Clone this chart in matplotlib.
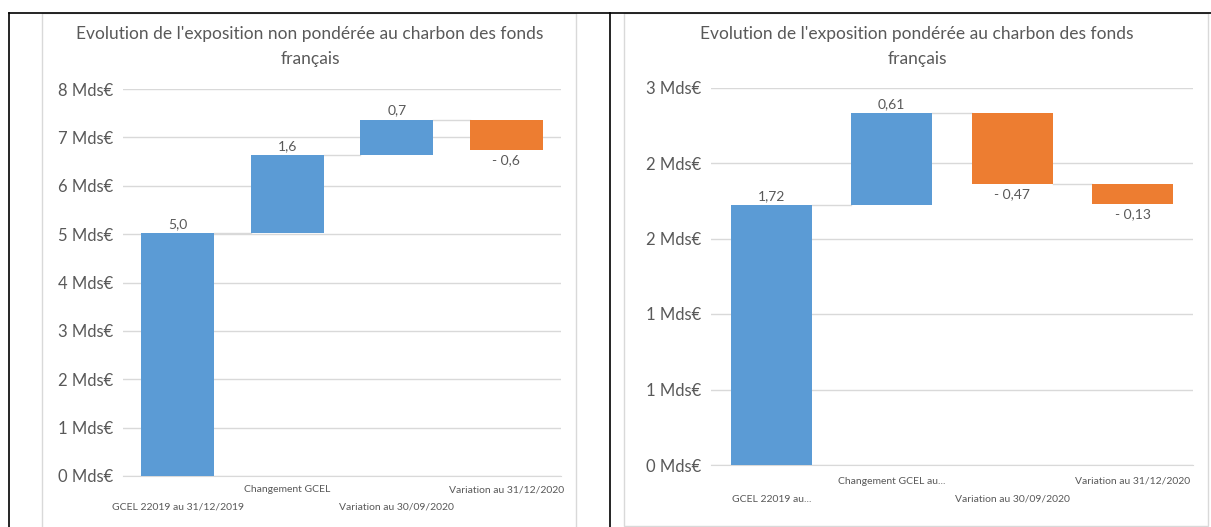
import matplotlib
matplotlib.use("Agg")
import matplotlib.pyplot as plt
from matplotlib.ticker import FuncFormatter, MultipleLocator
from matplotlib.lines import Line2D
from matplotlib.patches import Rectangle
import numpy as np

plt.rcParams['font.family'] = ['Lato', 'DejaVu Sans']

# ---- data ----
left_title = "Evolution de l'exposition non pondérée au charbon des fonds\nfrançais"
left_categories = ["GCEL 22019 au 31/12/2019", "Changement GCEL",
                   "Variation au 30/09/2020", "Variation au 31/12/2020"]
left_values = [5.02, 1.61, 0.73, -0.62]
left_decimals = 1

right_title = "Evolution de l'exposition pondérée au charbon des fonds\nfrançais"
right_categories = ["GCEL 22019 au...", "Changement GCEL au...",
                    "Variation au 30/09/2020", "Variation au 31/12/2020"]
right_values = [1.72, 0.61, -0.47, -0.13]
right_decimals = 2

BLUE = "#5B9BD5"
ORANGE = "#ED7D31"
TXT = "#595959"
GRID = "#D9D9D9"

W, H = 1211, 527
fig = plt.figure(figsize=(W / 100, H / 100), dpi=100)


def px_axes(x0, x1, ytop, ybot):
    return fig.add_axes([x0 / W, (H - ybot) / H, (x1 - x0) / W, (ybot - ytop) / H])


def fmt_label(v, dec):
    s = f"{abs(v):.{dec}f}".replace(".", ",")
    return ("- " + s) if v < 0 else s


def waterfall(ax, cats, vals, dec, ymax, ystep, fmt, pads):
    vals = np.array(vals, dtype=float)
    ends = np.cumsum(vals)
    starts = ends - vals
    x = np.arange(len(vals))
    bw = 0.67
    colors = [BLUE if v >= 0 else ORANGE for v in vals]
    bottoms = np.minimum(starts, ends)
    heights = np.abs(vals)
    ax.bar(x, heights, bottom=bottoms, width=bw, color=colors, zorder=3)
    # connectors
    for i in range(len(vals) - 1):
        ax.plot([x[i] + bw / 2, x[i + 1] - bw / 2], [ends[i], ends[i]],
                color=GRID, lw=1, zorder=2)
    # data labels
    for i, v in enumerate(vals):
        if v >= 0:
            ax.annotate(fmt_label(v, dec), (x[i], ends[i]), xytext=(0, 2.5),
                        textcoords="offset points", ha="center", va="bottom",
                        fontsize=10, color=TXT)
        else:
            ax.annotate(fmt_label(v, dec), (x[i], ends[i]), xytext=(0, -3),
                        textcoords="offset points", ha="center", va="top",
                        fontsize=10, color=TXT)
    ax.set_xlim(-0.5, len(vals) - 0.5)
    ax.set_ylim(0, ymax)
    ax.yaxis.set_major_locator(MultipleLocator(ystep))
    ax.yaxis.set_major_formatter(FuncFormatter(fmt))
    ax.grid(axis="y", color=GRID, lw=1, zorder=0)
    ax.set_axisbelow(True)
    for s in ["top", "right", "left"]:
        ax.spines[s].set_visible(False)
    ax.spines["bottom"].set_color(GRID)
    ax.tick_params(axis="y", length=0, labelsize=12, labelcolor=TXT, pad=7)
    ax.tick_params(axis="x", length=0, labelsize=7.5, labelcolor=TXT)
    ax.set_xticks(x)
    ax.set_xticklabels(cats)
    for i, t in enumerate(ax.xaxis.get_major_ticks()):
        t.set_pad(pads[i % 2])


axL = px_axes(123, 561, 89, 476)
waterfall(axL, left_categories, left_values, left_decimals, 8, 1,
          lambda v, p: f"{int(np.floor(v + 0.5))} Mds€", (19, 6.5))
axR = px_axes(711, 1193, 87.5, 465)
waterfall(axR, right_categories, right_values, right_decimals, 2.5, 0.5,
          lambda v, p: f"{int(np.floor(v + 0.5))} Mds€", (21.5, 8.5))

fig.text(310 / W, 1 - 46.5 / H, left_title, ha="center", va="center",
         fontsize=12.5, color=TXT, linespacing=1.65)
fig.text(917 / W, 1 - 46.5 / H, right_title, ha="center", va="center",
         fontsize=12.5, color=TXT, linespacing=1.65)

# chart-area borders (light grey)
fig.add_artist(Rectangle((42 / W, -0.05), (576 - 42) / W, (H - 13) / H + 0.05,
                         transform=fig.transFigure, fill=False, ec=GRID, lw=1))
fig.add_artist(Rectangle((624 / W, (H - 526) / H), (1207.5 - 624) / W, (526 - 13) / H,
                         transform=fig.transFigure, fill=False, ec=GRID, lw=1))
# outer black frame lines
fig.add_artist(Line2D([9 / W, 1.0], [1 - 13 / H, 1 - 13 / H], color="black", lw=1.2,
                      transform=fig.transFigure))
fig.add_artist(Line2D([9 / W, 9 / W], [0, 1 - 13 / H], color="black", lw=1.2,
                      transform=fig.transFigure))
fig.add_artist(Line2D([610 / W, 610 / W], [0, 1 - 13 / H], color="black", lw=1.2,
                      transform=fig.transFigure))

fig.savefig("out.png", dpi=100)
